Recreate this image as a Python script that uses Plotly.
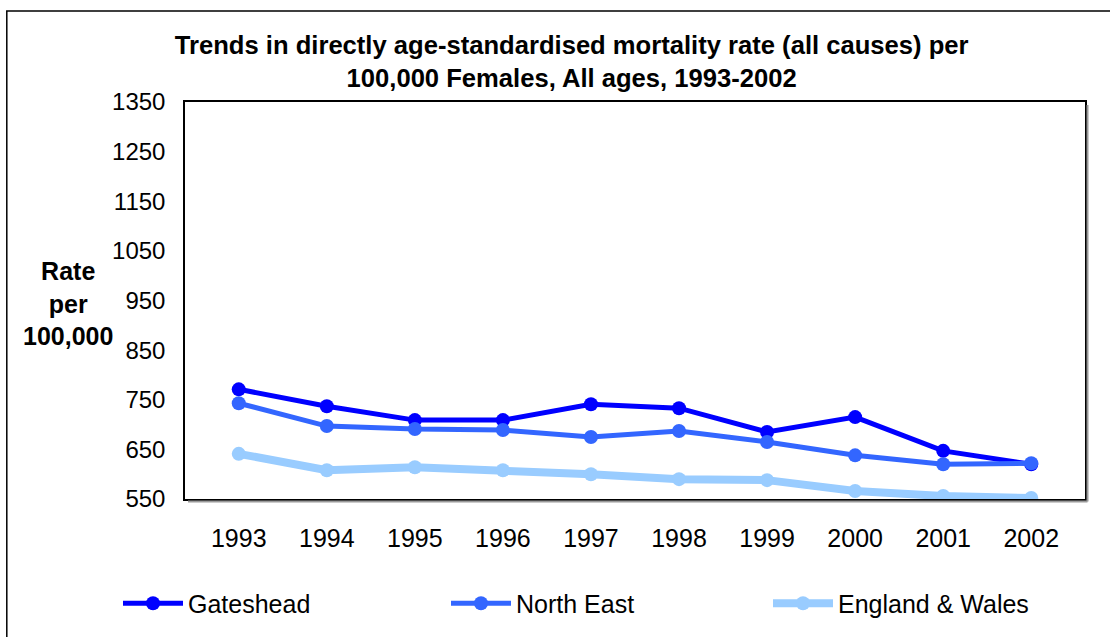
import plotly.graph_objects as go

years = ["1993", "1994", "1995", "1996", "1997", "1998", "1999", "2000", "2001", "2002"]
gateshead = [771, 737, 709, 709, 741, 733, 685, 715, 647, 620]
north_east = [743, 697, 691, 689, 675, 687, 665, 638, 620, 622]
england_wales = [641, 608, 614, 608, 600, 590, 588, 566, 556, 552]
y_ticks = [550, 650, 750, 850, 950, 1050, 1150, 1250, 1350]

FONT = "Liberation Sans, Arial, sans-serif"

fig = go.Figure()
fig.add_trace(go.Scatter(x=years, y=gateshead, name="Gateshead", mode="lines+markers", legend="legend",
                         line=dict(color="#0000FF", width=5), marker=dict(size=14, color="#0000FF")))
fig.add_trace(go.Scatter(x=years, y=north_east, name="North East", mode="lines+markers", legend="legend2",
                         line=dict(color="#3366FF", width=5), marker=dict(size=14, color="#3366FF")))
fig.add_trace(go.Scatter(x=years, y=england_wales, name="England & Wales", mode="lines+markers", legend="legend3",
                         line=dict(color="#99CCFF", width=8), marker=dict(size=14, color="#99CCFF")))


def leg(px):
    # legend left edge given in pixels; plot area is 185..1085 px
    return dict(orientation="h", x=(px - 185) / 900, xanchor="left", y=-0.26, yanchor="middle",
                itemwidth=60, font=dict(family=FONT, size=25, color="black"),
                bgcolor="rgba(0,0,0,0)", borderwidth=0)


# plot area: x 185..1085, y 102..500 px
fig.update_layout(
    width=1110, height=637,
    margin=dict(l=185, r=25, t=102, b=137),
    paper_bgcolor="white", plot_bgcolor="white",
    font=dict(family=FONT, size=24, color="black"),
    title=dict(text="<b>Trends in directly age-standardised mortality rate (all causes) per<br>100,000 Females, All ages, 1993-2002</b>",
               x=0.515, xanchor="center", y=0.916, yanchor="middle",
               font=dict(family=FONT, size=25.6, color="black")),
    xaxis=dict(showline=True, linecolor="black", linewidth=1.5, mirror=True, automargin=False,
               showgrid=False, ticks="", ticklabelstandoff=16,
               tickfont=dict(size=25)),
    yaxis=dict(range=[550, 1350], tickvals=y_ticks, showline=True, linecolor="black", automargin=False,
               linewidth=1.5, mirror=True, showgrid=False, zeroline=False, ticks="",
               ticklabelstandoff=13, tickfont=dict(size=24)),
    legend=leg(118),
    legend2=leg(446),
    legend3=leg(768),
    showlegend=True,
)

fig.add_annotation(text="<b>Rate<br>per<br>100,000</b>", xref="paper", yref="paper",
                   x=-0.13, y=0.493, xanchor="center", yanchor="middle", showarrow=False,
                   font=dict(family=FONT, size=25, color="black"))

# soft shadow along the bottom and right of the plot area
fig.add_shape(type="line", xref="paper", yref="paper", x0=3 / 900, x1=1 + 2.5 / 900, y0=-2.5 / 398, y1=-2.5 / 398,
              line=dict(color="#9a9a9a", width=2))
fig.add_shape(type="line", xref="paper", yref="paper", x0=1 + 2.5 / 900, x1=1 + 2.5 / 900, y0=-2.5 / 398, y1=1 - 3 / 398,
              line=dict(color="#9a9a9a", width=2))

# outer chart border
fig.add_shape(type="rect", xref="paper", yref="paper", x0=-0.198, x1=1.04, y0=-0.36, y1=1.229,
              line=dict(color="black", width=1.5), layer="below")

fig.write_html("out.html", config={"displayModeBar": False},
               post_script="document.body.style.margin='0';document.body.style.overflow='hidden';")
